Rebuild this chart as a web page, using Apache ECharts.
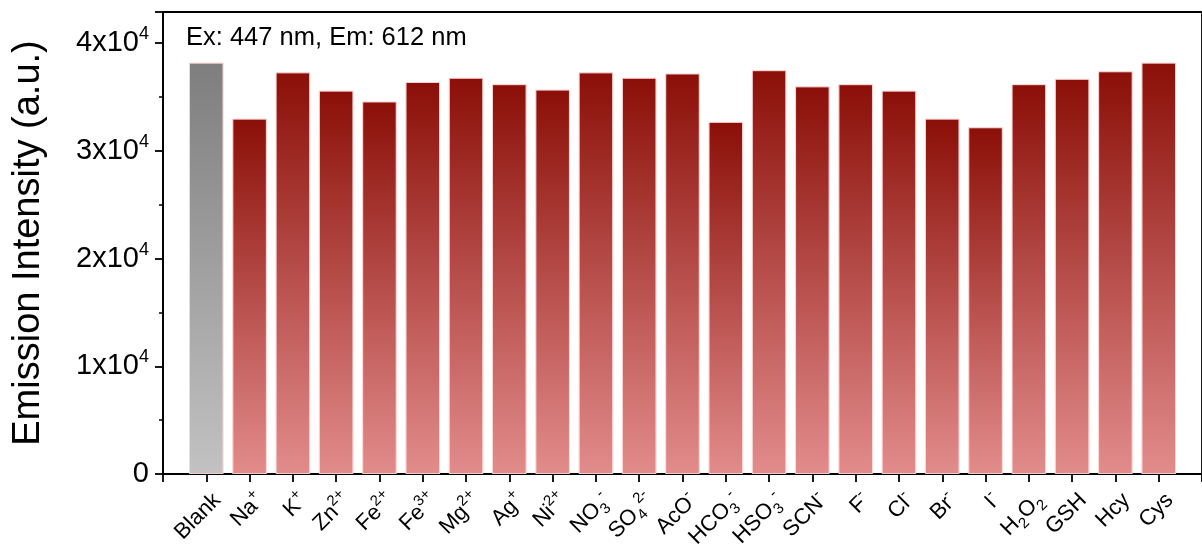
<!DOCTYPE html>
<html>
<head>
<meta charset="utf-8">
<style>
  html, body { margin: 0; padding: 0; background: #fff; }
  #chart { width: 1202px; height: 546px; }
</style>
<script src="https://cdn.jsdelivr.net/npm/echarts@6/dist/echarts.min.js"></script>
</head>
<body>
<div id="chart"></div>
<script>
// Analytes tested (rich-text markup for sub/superscripts)
const categories = [
  'Blank', '{m|Na}{sup|+}', '{m|K}{sup|+}', '{m|Zn}{sup|2+}', '{m|Fe}{sup|2+}', '{m|Fe}{sup|3+}',
  '{m|Mg}{sup|2+}', '{m|Ag}{sup|+}', '{m|Ni}{sup|2+}', '{m|NO}{sub|3}{sup|-}', '{m|SO}{sub|4}{sup|2-}',
  '{m|AcO}{sup|-}', '{m|HCO}{sub|3}{sup|-}', '{m|HSO}{sub|3}{sup|-}', '{m|SCN}{sup|-}', '{m|F}{sup|-}',
  '{m|Cl}{sup|-}', '{m|Br}{sup|-}', '{m|I}{sup|-}', '{m|H}{sub|2}{m|O}{sub|2}', 'GSH', 'Hcy', 'Cys'
];
// Emission intensity (a.u.) at 612 nm
const intensity = [
  38200, 33000, 37300, 35600, 34600, 36400, 36800, 36200, 35700, 37300, 36800,
  37200, 32700, 37500, 36000, 36200, 35600, 33000, 32200, 36200, 36700, 37400, 38200
];
const yTicks = [0, 10000, 20000, 30000, 40000];

// Empty slot on each side so the first and last bars sit one full band from the frame
const axisCats = [''].concat(categories.map(() => ''), ['']);
const axisVals = ['-'].concat(intensity, ['-']);

const redFill = new echarts.graphic.LinearGradient(0, 0, 0, 1, [
  { offset: 0, color: '#8b0f08' },
  { offset: 1, color: '#e28c8c' }
]);
const greyFill = new echarts.graphic.LinearGradient(0, 0, 0, 1, [
  { offset: 0, color: '#7e7e7e' },
  { offset: 1, color: '#c2c2c2' }
]);

const barData = axisVals.map((v, i) => ({
  value: v,
  itemStyle: { color: i === 1 ? greyFill : redFill }
}));

const FONT = '"Liberation Sans", Arial, sans-serif';
const labelRich = {
  m: { fontSize: 22, fontFamily: FONT, fill: '#000', lineHeight: 30 },
  sup: { fontSize: 15, fontFamily: FONT, fill: '#000', verticalAlign: 'top', lineHeight: 30 },
  sub: { fontSize: 15, fontFamily: FONT, fill: '#000', verticalAlign: 'bottom', lineHeight: 30 }
};

const chart = echarts.init(document.getElementById('chart'));
chart.setOption({
  animation: false,
  backgroundColor: '#fff',
  grid: {
    left: 163, top: 12, right: -10, bottom: 72,
    show: true, borderColor: '#000', borderWidth: 1.8, backgroundColor: 'transparent'
  },
  xAxis: {
    type: 'category',
    data: axisCats,
    boundaryGap: false,
    axisLine: { lineStyle: { color: '#000', width: 1.8 } },
    axisTick: { show: true, length: 8, inside: false, lineStyle: { color: '#000', width: 1.8 } },
    axisLabel: { show: false },
    splitLine: { show: false }
  },
  yAxis: {
    type: 'value',
    min: 0,
    max: 42900,
    interval: 10000,
    name: 'Emission Intensity (a.u.)',
    nameLocation: 'middle',
    nameGap: 115,
    nameTextStyle: { fontFamily: FONT, fontSize: 38, color: '#000' },
    axisLine: { show: true, lineStyle: { color: '#000', width: 1.8 } },
    axisTick: { show: true, length: 8, lineStyle: { color: '#000', width: 1.8 } },
    minorTick: { show: true, splitNumber: 2, length: 4, lineStyle: { color: '#000', width: 1.5 } },
    splitLine: { show: false },
    axisLabel: {
      margin: 14,
      showMaxLabel: false,
      color: '#000',
      fontFamily: FONT,
      fontSize: 29,
      formatter: v => (yTicks.indexOf(v) === -1 ? '' : (v === 0 ? '{b|0}' : '{b|' + (v / 10000) + 'x10}{sup|4}')),
      rich: {
        b: { fontSize: 29, fontFamily: FONT, color: '#000', lineHeight: 36 },
        sup: { fontSize: 18, fontFamily: FONT, color: '#000', verticalAlign: 'top', lineHeight: 36 }
      }
    }
  },
  series: [{
    type: 'bar',
    data: barData,
    barCategoryGap: '20%',
    itemStyle: { borderColor: 'rgba(255,215,215,0.7)', borderWidth: 1 }
  }]
});

// Category labels: slanted 45°, anchored just below each tick
const axisY = chart.convertToPixel({ yAxisIndex: 0 }, 0);
const graphics = [{
  type: 'text',
  left: 186,
  top: 25,
  style: { text: 'Ex: 447 nm, Em: 612 nm', fontFamily: FONT, fontSize: 25.5, fill: '#000' }
}];
categories.forEach((txt, i) => {
  const x = chart.convertToPixel({ xAxisIndex: 0 }, i + 1);
  graphics.push({
    type: 'text',
    x: x + 11,
    y: axisY + 23,
    rotation: Math.PI / 4,
    style: {
      text: txt.indexOf('{') === -1 ? '{m|' + txt + '}' : txt,
      rich: labelRich,
      align: 'right',
      verticalAlign: 'middle',
      fill: '#000'
    }
  });
});
chart.setOption({ graphic: graphics });
</script>
</body>
</html>
